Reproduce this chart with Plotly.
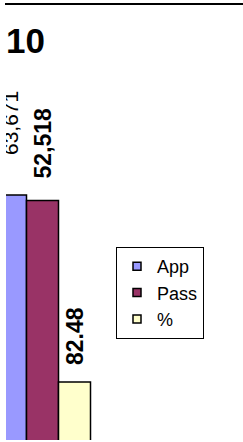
import math
import plotly.graph_objects as go

categories = ["10"]
series_names = ["App", "Pass", "%"]
app_values = [63671]
pass_values = [52518]
pct_values = [82.48]

colors = ["#9999FF", "#993366", "#FFFFCC"]
FONT = "Liberation Sans, Arial, sans-serif"

W, H = 243, 442
ML, MR, MT, MB = 6, 0, 0, 2
PW, PH = W - ML - MR, H - MT - MB


def pad(px, n):
    size = px / (n * 0.278)
    return '<span style="font-size:%.2fpx">%s</span>' % (size, "\u00a0" * n)


fig = go.Figure()
specs = [
    (app_values, "%{y:,}", 21, "normal", pad(37, 7)),
    (pass_values, "%{y:,}", 23, "bold", pad(19, 4)),
    (pct_values, "%{y:.2f}", 23, "bold", pad(14, 3)),
]
for name, color, (vals, fmt, fs, fw, pd) in zip(series_names, colors, specs):
    fig.add_trace(go.Bar(
        x=categories, y=vals, name=name, showlegend=False, legendgroup=name,
        marker=dict(color=color, line=dict(color="black", width=1.5)),
        texttemplate=pd + fmt, textposition="outside", textangle=-90,
        textfont=dict(family=FONT, size=fs, color="black", weight=fw),
        cliponaxis=True, constraintext="none", hoverinfo="skip",
    ))
for name, color in zip(series_names, colors):
    fig.add_trace(go.Scatter(
        x=[None], y=[None], mode="markers", name=name, legendgroup=name,
        marker=dict(symbol="square", size=8, color=color,
                    line=dict(color="black", width=1.5)),
    ))

# bar layout: group of 3 bars each 32px wide, middle bar centred at x=42.5px
gap = 0.25
ppu = 96 / (1 - gap)
cx = 42.5 - ML
x0 = -cx / ppu
x1 = (PW - cx) / ppu

# log axis: 63,671 top at 195px, 82.48 top at 382px
ppd = (382 - 195) / (math.log10(63671) - math.log10(82.48))
r1 = math.log10(63671) + (195 - MT) / ppd
r0 = r1 - PH / ppd

fig.update_layout(
    width=W, height=H,
    margin=dict(l=ML, r=MR, t=MT, b=MB, pad=0),
    paper_bgcolor="white", plot_bgcolor="white",
    barmode="group", bargap=gap, bargroupgap=0,
    xaxis=dict(visible=False, range=[x0, x1], fixedrange=True),
    yaxis=dict(visible=False, type="log", range=[r0, r1], fixedrange=True),
    showlegend=True,
    legend=dict(
        x=(116 - ML) / PW, y=(H - MB - 247) / PH, xanchor="left", yanchor="top",
        bgcolor="white", bordercolor="black", borderwidth=1,
        font=dict(family=FONT, size=18, color="black"),
        itemsizing="trace", tracegroupgap=0,
        entrywidth=70, entrywidthmode="pixels",
    ),
    annotations=[dict(
        text="<b>%s</b>" % categories[0], xref="paper", yref="paper",
        x=(5 - ML) / PW, y=(H - MB - 41) / PH, xanchor="left", yanchor="middle",
        showarrow=False, font=dict(family=FONT, size=35, color="black"),
        borderpad=0,
    )],
    shapes=[dict(
        type="line", xref="paper", yref="paper",
        x0=(5 - ML) / PW, x1=1, y0=(H - MB - 4) / PH, y1=(H - MB - 4) / PH,
        line=dict(color="black", width=2),
    )],
)

fig.write_html("out.html", config={"displayModeBar": False},
               post_script="document.body.style.margin='0';")
